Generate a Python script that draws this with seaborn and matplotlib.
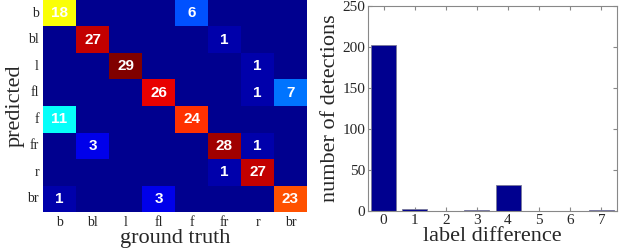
import matplotlib
matplotlib.use("Agg")
import matplotlib.pyplot as plt
import numpy as np
import seaborn as sns
from matplotlib.colors import LinearSegmentedColormap

labels = ["b", "bl", "l", "fl", "f", "fr", "r", "br"]
confusion = [
    [18, 0, 0, 0, 6, 0, 0, 0],
    [0, 27, 0, 0, 0, 1, 0, 0],
    [0, 0, 29, 0, 0, 0, 1, 0],
    [0, 0, 0, 26, 0, 0, 1, 7],
    [11, 0, 0, 0, 24, 0, 0, 0],
    [0, 3, 0, 0, 0, 28, 1, 0],
    [0, 0, 0, 0, 0, 1, 27, 0],
    [1, 0, 0, 3, 0, 0, 0, 23],
]
label_diff = [0, 1, 2, 3, 4, 5, 6, 7]
detections = [202, 2, 0, 1, 32, 0, 0, 1]

# MATLAB-style jet (pure yellow at 5/8, dark blue start)
matlab_jet = LinearSegmentedColormap("matlab_jet", {
    "red": [(0, 0, 0), (3 / 8, 0, 0), (5 / 8, 1, 1), (7 / 8, 1, 1), (1, 0.5, 0.5)],
    "green": [(0, 0, 0), (1 / 8, 0, 0), (3 / 8, 1, 1), (5 / 8, 1, 1), (7 / 8, 0, 0), (1, 0, 0)],
    "blue": [(0, 0.5625, 0.5625), (1 / 8, 1, 1), (3 / 8, 1, 1), (5 / 8, 0, 0), (1, 0, 0)],
})

sns.set_style("white")
plt.rcParams["font.family"] = ["Liberation Serif", "DejaVu Serif"]

fig = plt.figure(figsize=(6.23, 2.49), dpi=100)
W, H = 623, 249
ax1 = fig.add_axes([43 / W, 1 - 212 / H, 264 / W, 212 / H])
ax2 = fig.add_axes([368 / W, 1 - 211 / H, 249 / W, 205 / H])

cm = np.array(confusion)
annot = np.where(cm > 0, cm.astype(str), "")
sns.heatmap(cm, cmap=matlab_jet, vmin=0, vmax=29, annot=annot, fmt="", cbar=False,
            xticklabels=labels, yticklabels=labels, ax=ax1,
            annot_kws={"color": "white", "fontsize": 11, "fontweight": "bold",
                       "family": "Liberation Sans"})
ax1.set_xlabel("ground truth", fontsize=16, labelpad=0)
ax1.set_ylabel("predicted", fontsize=16, labelpad=2)
ax1.tick_params(axis="both", labelsize=10, length=0, pad=3)
plt.setp(ax1.get_yticklabels(), rotation=0)

sns.barplot(x=label_diff, y=detections, color="#00008F", edgecolor="#7a7a9a",
            linewidth=0.6, width=0.8, saturation=1, ax=ax2)
ax2.set_ylim(0, 250)
ax2.set_yticks([0, 50, 100, 150, 200, 250])
ax2.set_xlim(-0.5, 7.5)
ax2.set_xlabel("label difference", fontsize=16, labelpad=0)
ax2.set_ylabel("number of detections", fontsize=16, labelpad=2)
ax2.tick_params(axis="both", labelsize=11, direction="in", length=3, color="#888888",
                top=True, right=True, bottom=True, left=True, pad=2)
for s in ax2.spines.values():
    s.set_color("#888888")
    s.set_linewidth(0.8)

fig.savefig("out.png", dpi=100)
